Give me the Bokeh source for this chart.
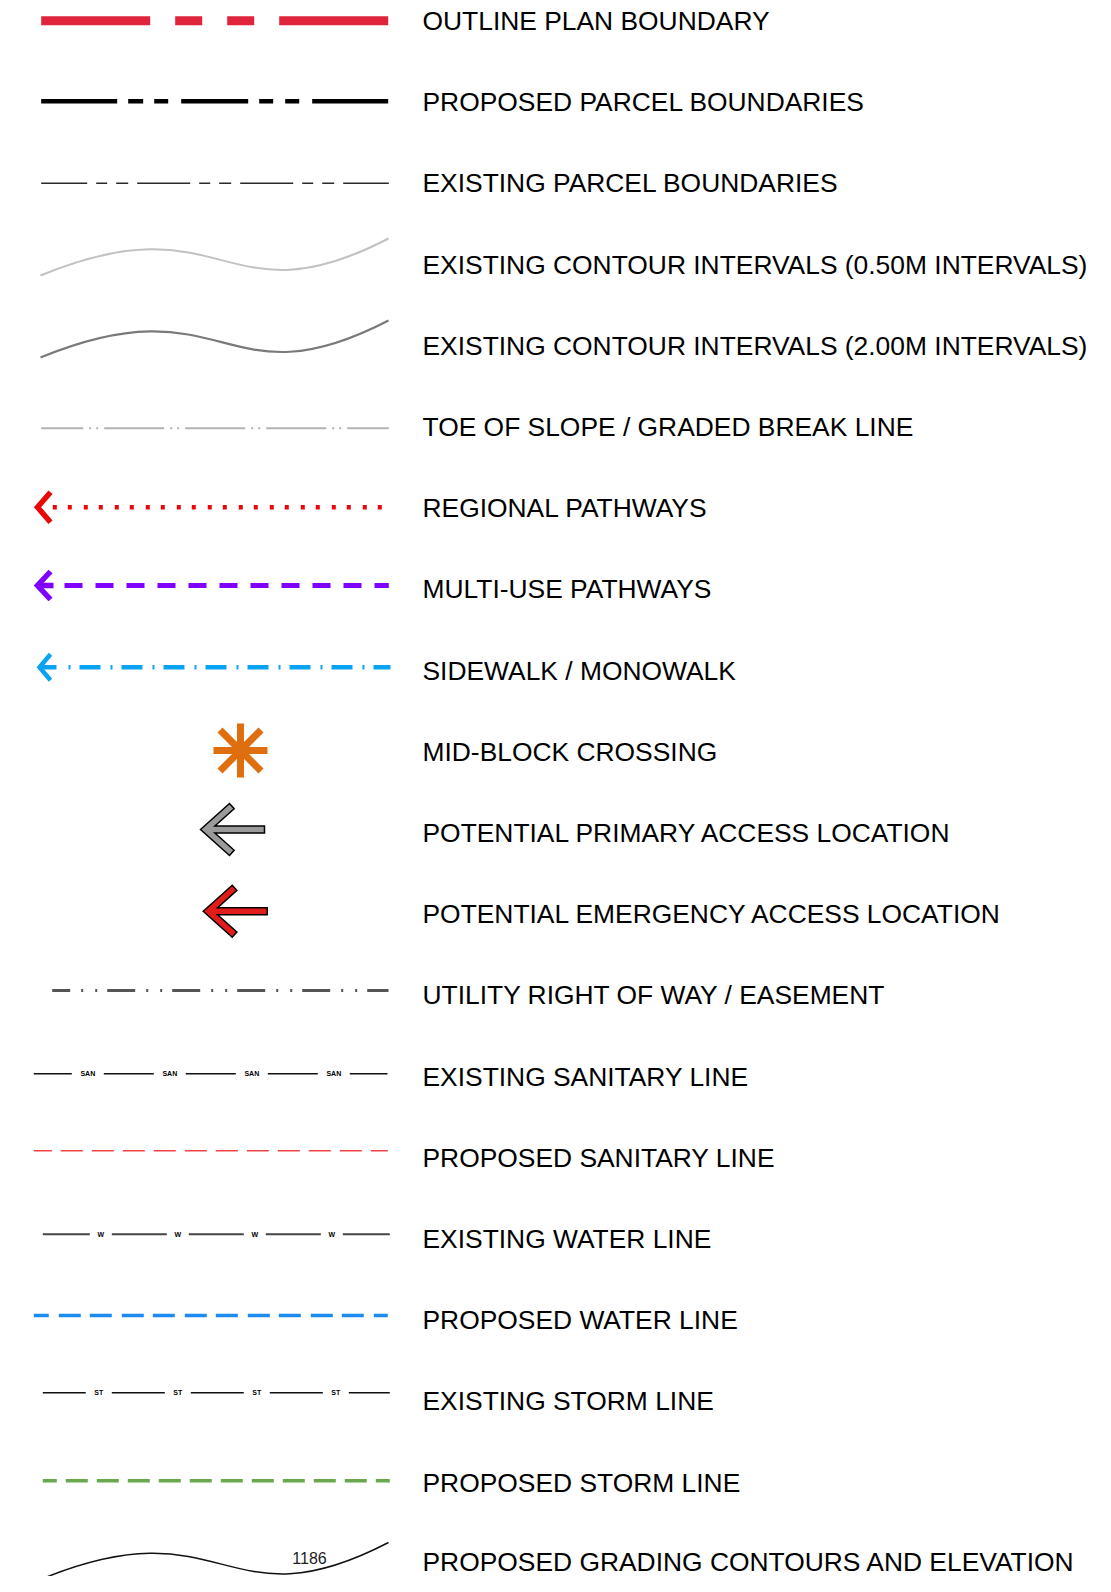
import math
from bokeh.plotting import figure
from bokeh.models import Range1d
from bokeh.core.properties import value
from bokeh.embed import file_html
from bokeh.resources import INLINE

# ---------------- data ----------------
LABELS = [
    "OUTLINE PLAN BOUNDARY",
    "PROPOSED PARCEL BOUNDARIES",
    "EXISTING PARCEL BOUNDARIES",
    "EXISTING CONTOUR INTERVALS (0.50M INTERVALS)",
    "EXISTING CONTOUR INTERVALS (2.00M INTERVALS)",
    "TOE OF SLOPE / GRADED BREAK LINE",
    "REGIONAL PATHWAYS",
    "MULTI-USE PATHWAYS",
    "SIDEWALK / MONOWALK",
    "MID-BLOCK CROSSING",
    "POTENTIAL PRIMARY ACCESS LOCATION",
    "POTENTIAL EMERGENCY ACCESS LOCATION",
    "UTILITY RIGHT OF WAY / EASEMENT",
    "EXISTING SANITARY LINE",
    "PROPOSED SANITARY LINE",
    "EXISTING WATER LINE",
    "PROPOSED WATER LINE",
    "EXISTING STORM LINE",
    "PROPOSED STORM LINE",
    "PROPOSED GRADING CONTOURS AND ELEVATION",
]
CONTOUR_LABEL = "1186"
LINE_TAGS = {13: "SAN", 15: "W", 17: "ST"}

# ---------------- layout / style ----------------
ROW_Y0, ROW_STEP = 20.5, 81.2
TEXT_X = 422
FONT = "Liberation Sans"
row_y = [ROW_Y0 + i * ROW_STEP for i in range(len(LABELS))]
row_y[-1] -= 2

# symbol centre line (y) of each row
LINE_Y = {0: 20.3, 1: 100.7, 2: 182.7, 5: 427.7, 6: 506.7, 7: 585.0, 8: 666.7,
          9: 750.0, 10: 829.0, 11: 910.7, 12: 990.0, 13: 1073.3, 14: 1150.3,
          15: 1233.7, 16: 1315.0, 17: 1392.3, 18: 1480.3}

# dashed line styles: row -> (x0, x1, colour, width, dash, offset)
DASHED = {
    0: (40.7, 388.3, "#E0243C", 9, "109 25 27 25 27 25", 0),
    1: (40.7, 388.3, "#000000", 4.5, "76 11 15 11 14 13 67 11 14 12 14 13", 0),
    2: (40.7, 388.3, "#2a2a2a", 1.5, "53 9 11 9 12 9", 7),
    5: (40.7, 388.3, "#b3b3b3", 2, "60 6 2 5 2 6", 18),
    6: (52.3, 382.0, "#E80808", 4.5, "4 11 4 12", 0),
    7: (64.0, 388.3, "#7F00FF", 5, "18 13", 0),
    8: (68.0, 390.0, "#0AA2F2", 4.5, "2 9 21 10", 0),
    12: (51.7, 388.0, "#555555", 3, "28 11 2 12 2 10", 10),
    13: (33.3, 387.0, "#111111", 1.5, "50 32", 12),
    14: (33.3, 387.3, "#F04444", 1.5, "22 9", 4),
    15: (42.3, 389.3, "#444444", 2, "55 22", 8),
    16: (33.3, 387.3, "#1E8BF0", 3.5, "22 10 22 9", 7),
    17: (42.3, 389.3, "#111111", 1.5, "53 26", 10),
    18: (42.3, 389.3, "#6AA84F", 3.5, "22 9", 8),
}

# chevron arrow heads at the left of pathway lines: row -> (tip_x, arm_dx, arm_dy, shaft_end, colour, width)
CHEVRONS = {
    6: (37.0, 13, 15, None, "#E80808", 5.5),
    7: (37.0, 13, 14, 53.0, "#7F00FF", 5.5),
    8: (39.0, 11, 13, 56.0, "#0AA2F2", 4.5),
}

# contour curves (cubic bezier) relative to a base y
CURVE_X = (40.0, 227.0, 222.0, 388.0)          # P0, C0, C1, P1
CURVE_DY = (11.0, -66.0, 60.0, -26.0)
CURVES = {3: (264.0, "#c2c2c2", 2.0), 4: (346.0, "#7a7a7a", 2.2), 19: (1568.0, "#111111", 1.5)}

# access arrows: row -> (tip_x, fill)
ARROWS = {10: (200.0, "#9A9A9A"), 11: (202.7, "#E21B1B")}
ARROW_A, ARROW_H, ARROW_T, ARROW_S, ARROW_L = 29.0, 26.0, 7.0, 3.5, 64.0

# mid-block crossing asterisk
AST_X, AST_COLOR, AST_W = 240.0, "#DE6E0E", 7
AST_ANGLES = [0, 45, 90, 135]
AST_HALF = [27, 29, 27, 29]

# ---------------- figure ----------------
p = figure(width=1095, height=1576, x_range=Range1d(0, 1095), y_range=Range1d(1576, 0),
           x_axis_type=None, y_axis_type=None, toolbar_location=None,
           output_backend="svg", min_border=0, outline_line_color=None,
           background_fill_color="white", border_fill_color="white")

# labels
p.text(x=[TEXT_X] * len(LABELS), y=row_y, text=LABELS,
       text_font=value(FONT), text_font_size="26.4px", text_color="#000000",
       text_baseline="middle", text_align="left")

# dashed lines
for row, (x0, x1, col, w, dash, off) in DASHED.items():
    y = LINE_Y[row]
    p.line([x0, x1], [y, y], line_color=col, line_width=w, line_dash=dash,
           line_dash_offset=off, line_cap="butt")

# small tags in gaps of utility lines
for row, tag in LINE_TAGS.items():
    x0, x1, col, w, dash, off = DASHED[row]
    d, g = [int(v) for v in dash.split()]
    period = d + g
    start = x0 - off
    xs = []
    k = 0
    while True:
        c = start + k * period + d + g / 2
        if c > x1:
            break
        if c > x0:
            xs.append(c)
        k += 1
    y = LINE_Y[row]
    p.text(x=xs, y=[y] * len(xs), text=[tag] * len(xs), text_font=value(FONT),
           text_font_size="7px", text_font_style="bold", text_color="#000000",
           text_align="center", text_baseline="middle")

# chevrons
for row, (tx, adx, ady, shaft, col, w) in CHEVRONS.items():
    y = LINE_Y[row]
    p.line([tx + adx, tx, tx + adx], [y - ady, y, y + ady], line_color=col,
           line_width=w, line_join="miter", line_cap="butt")
    if shaft is not None:
        p.line([tx, shaft], [y, y], line_color=col, line_width=w, line_cap="butt")

# contour curves
for row, (base, col, w) in CURVES.items():
    p.bezier(x0=[CURVE_X[0]], y0=[base + CURVE_DY[0]], x1=[CURVE_X[3]], y1=[base + CURVE_DY[3]],
             cx0=[CURVE_X[1]], cy0=[base + CURVE_DY[1]], cx1=[CURVE_X[2]], cy1=[base + CURVE_DY[2]],
             line_color=col, line_width=w)

p.text(x=[309.0], y=[1557.5], text=[CONTOUR_LABEL], text_font=value(FONT),
       text_font_size="16px", text_color="#222222", text_align="center",
       text_baseline="middle")

# asterisk
cy = LINE_Y[9]
ax0, ay0, ax1, ay1 = [], [], [], []
for ang, L in zip(AST_ANGLES, AST_HALF):
    c, s = math.cos(math.radians(ang)), math.sin(math.radians(ang))
    ax0.append(AST_X - L * c); ax1.append(AST_X + L * c)
    ay0.append(cy - L * s); ay1.append(cy + L * s)
p.segment(ax0, ay0, ax1, ay1, line_color=AST_COLOR, line_width=AST_W, line_cap="butt")

# access arrows
ln = math.hypot(ARROW_A, ARROW_H)
ux, uy = ARROW_A / ln, -ARROW_H / ln
nx, ny = ARROW_H / ln, ARROW_A / ln
p3x, p3y = ARROW_A + ARROW_T * nx, -ARROW_H + ARROW_T * ny
k = (-ARROW_S - p3y) / (-uy)
p4x = p3x - ux * k
shape_x = [0, ARROW_A, p3x, p4x, ARROW_L, ARROW_L, p4x, p3x, ARROW_A]
shape_y = [0, -ARROW_H, p3y, -ARROW_S, -ARROW_S, ARROW_S, ARROW_S, -p3y, ARROW_H]
for row, (tx, fill) in ARROWS.items():
    y = LINE_Y[row]
    p.patch([tx + sx for sx in shape_x], [y + sy for sy in shape_y], fill_color=fill,
            line_color="#000000", line_width=1.5, line_join="miter")

open("out.html", "w").write(file_html(p, INLINE))
